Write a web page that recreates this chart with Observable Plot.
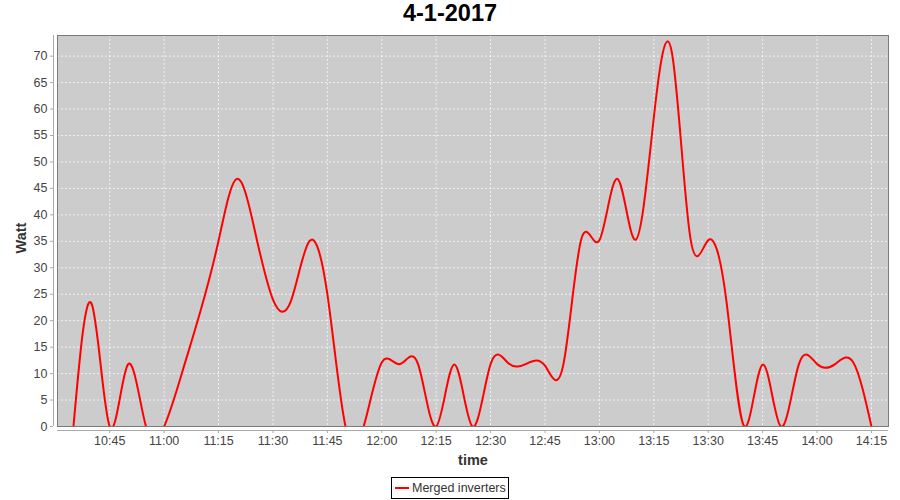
<!DOCTYPE html>
<html><head><meta charset="utf-8">
<script src="https://cdn.jsdelivr.net/npm/d3@7"></script>
<script src="https://cdn.jsdelivr.net/npm/@observablehq/plot@0.6"></script>
<style>
body{margin:0;background:#fff;}
#wrap{position:relative;width:900px;height:500px;font-family:"Liberation Sans",Arial,sans-serif;overflow:hidden;}
#title{position:absolute;left:0;top:2px;width:900px;text-align:center;font-weight:bold;font-size:23.5px;line-height:23.5px;color:#000;}
#chart{position:absolute;left:0;top:0;}
#legend{position:absolute;left:391px;top:477px;width:118px;height:22px;box-sizing:border-box;border:1px solid #000;background:#fff;}
#legend svg{position:absolute;left:2px;top:8px;}
#legend span{position:absolute;left:20px;top:4px;font-size:12.5px;line-height:12.5px;color:#333;white-space:nowrap;}
</style></head><body>
<div id="wrap">
  <div id="chart"></div>
  <div id="title">4-1-2017</div>
  <div id="legend"><svg width="16" height="4"><line x1="1" y1="2" x2="15" y2="2" stroke="#ff0000" stroke-width="2"/></svg><span>Merged inverters</span></div>
</div>
<script>
const times = ["10:35","10:40","10:45","10:50","10:55","11:00","11:05","11:10","11:15","11:20",
  "11:25","11:30","11:35","11:40","11:45","11:50","11:55","12:00","12:05","12:10",
  "12:15","12:20","12:25","12:30","12:35","12:40","12:45","12:50","12:55","13:00",
  "13:05","13:10","13:15","13:20","13:25","13:30","13:35","13:40","13:45","13:50",
  "13:55","14:00","14:05","14:10","14:15"];
const watts = [0,23.2,0,11.7,0,0,10.3,21.8,35.1,46.8,
  37.0,24.0,23.8,35.0,25.0,0,0,12.1,11.8,11.8,
  0,11.7,0,11.8,11.9,11.9,11.5,11.5,35.4,35.2,
  46.8,35.3,58.4,70.6,36.0,35.2,23.8,0,11.7,0,
  11.8,11.8,11.8,12.1,0];
const xTickLabels = ["10:45","11:00","11:15","11:30","11:45","12:00","12:15","12:30","12:45","13:00","13:15","13:30","13:45","14:00","14:15"];
const yTicks = [0,5,10,15,20,25,30,35,40,45,50,55,60,65,70];
const xDomainLabels = ["10:30:36","14:19:42"];
const yDomain = [0, 73.9];

const parse = d3.timeParse("%H:%M");
const parseS = d3.timeParse("%H:%M:%S");
const data = times.map((t, i) => ({time: parse(t), watt: watts[i]}));
const xTicks = xTickLabels.map(parse);
const xDomain = xDomainLabels.map(parseS);

const axisColor = "#aaaaaa";
const gridStyle = {stroke: "#ffffff", strokeOpacity: 0.9, strokeDasharray: "2,2", strokeWidth: 0.8};

const chart = Plot.plot({
  width: 900,
  height: 500,
  marginTop: 35,
  marginBottom: 74,
  marginLeft: 57,
  marginRight: 12,
  x: {type: "time", domain: xDomain, label: null},
  y: {domain: yDomain, label: null},
  style: {fontFamily: "'Liberation Sans', Arial, sans-serif", fontSize: "12.5px", background: "transparent", overflow: "visible"},
  marks: [
    Plot.frame({fill: "#cccccc", stroke: "none"}),
    Plot.gridY(yTicks, gridStyle),
    Plot.gridX(xTicks, gridStyle),
    Plot.line(data, {x: "time", y: "watt", curve: "natural", stroke: "#ff0000", strokeWidth: 2, clip: true}),
    Plot.frame({stroke: "#7a7a7a"}),
    Plot.ruleX([xDomain[0]], {dx: -4, stroke: axisColor}),
    Plot.ruleY([yDomain[0]], {dy: 4, stroke: axisColor}),
    Plot.axisY(yTicks, {dx: -4, tickSize: 3, tickPadding: 3, stroke: axisColor, fill: "#444", label: null}),
    Plot.axisX(xTicks, {dy: 4, tickSize: 3, tickPadding: 3, tickFormat: d3.timeFormat("%H:%M"), stroke: axisColor, fill: "#444", label: null}),
    Plot.text(["Watt"], {text: d => d, frameAnchor: "left", textAnchor: "middle", dx: -36, dy: 7, rotate: -90, fontWeight: "bold", fontSize: 14.5, fill: "#333"}),
    Plot.text(["time"], {text: d => d, frameAnchor: "bottom", dy: 38, fontWeight: "bold", fontSize: 14.5, fill: "#333"})
  ]
});
document.getElementById("chart").appendChild(chart);
</script>
</body></html>
